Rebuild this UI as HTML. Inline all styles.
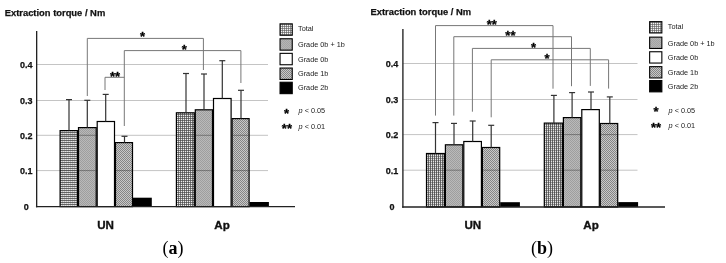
<!DOCTYPE html>
<html><head><meta charset="utf-8"><style>
html,body{margin:0;padding:0;background:#fff;}
svg{display:block;will-change:transform;filter:blur(0.3px);}
text{font-family:"Liberation Sans",sans-serif;}
.t{font-weight:bold;font-size:9.4px;fill:#111;stroke:#111;stroke-width:0.25px;}
.yl{font-weight:bold;font-size:9px;fill:#111;text-anchor:middle;stroke:#111;stroke-width:0.25px;}
.xl{font-weight:bold;font-size:11.6px;fill:#111;text-anchor:middle;stroke:#111;stroke-width:0.35px;}
.lg{font-size:7.3px;fill:#222;}
.s{font-weight:bold;font-size:13px;fill:#000;text-anchor:middle;stroke:#000;stroke-width:0.3px;}
.cap{font-family:"Liberation Serif",serif;font-size:18px;fill:#000;text-anchor:middle;}
.g{stroke:#c4c4c4;stroke-width:1;}
.b{stroke:#000;stroke-width:1.1;}
.e{stroke:#333;stroke-width:1.2;}
.k{stroke:#777;stroke-width:1;}
.ax{stroke:#222;stroke-width:1.35;}
</style></head><body>
<svg width="726" height="263" viewBox="0 0 726 263">
<defs><pattern id="pTH" width="2" height="2" patternUnits="userSpaceOnUse"><rect x="0" y="0" width="1" height="1" fill="#606060"/><rect x="1" y="0" width="1" height="1" fill="#686868"/><rect x="0" y="1" width="1" height="1" fill="#bcbcbc"/><rect x="1" y="1" width="1" height="1" fill="#e2e2e2"/></pattern><pattern id="pTG" width="2" height="2" patternUnits="userSpaceOnUse"><rect x="0" y="0" width="1" height="1" fill="#555"/><rect x="1" y="0" width="1" height="1" fill="#7a7a7a"/><rect x="0" y="1" width="1" height="1" fill="#7a7a7a"/><rect x="1" y="1" width="1" height="1" fill="#eee"/></pattern><pattern id="pTV" width="2" height="2" patternUnits="userSpaceOnUse"><rect x="0" y="0" width="1" height="1" fill="#555"/><rect x="1" y="0" width="1" height="1" fill="#9a9a9a"/><rect x="0" y="1" width="1" height="1" fill="#666"/><rect x="1" y="1" width="1" height="1" fill="#e6e6e6"/></pattern><pattern id="pTL" width="2" height="2" patternUnits="userSpaceOnUse"><rect x="0" y="0" width="1" height="1" fill="#707070"/><rect x="1" y="0" width="1" height="1" fill="#959595"/><rect x="0" y="1" width="1" height="1" fill="#959595"/><rect x="1" y="1" width="1" height="1" fill="#f5f5f5"/></pattern><pattern id="p01" width="2" height="2" patternUnits="userSpaceOnUse"><rect x="0" y="0" width="1" height="1" fill="#9e9e9e"/><rect x="1" y="0" width="1" height="1" fill="#b9b9b9"/><rect x="0" y="1" width="1" height="1" fill="#b9b9b9"/><rect x="1" y="1" width="1" height="1" fill="#9e9e9e"/></pattern><pattern id="p01L" width="2" height="2" patternUnits="userSpaceOnUse"><rect x="0" y="0" width="1" height="1" fill="#a4a4a4"/><rect x="1" y="0" width="1" height="1" fill="#b4b4b4"/><rect x="0" y="1" width="1" height="1" fill="#b4b4b4"/><rect x="1" y="1" width="1" height="1" fill="#a4a4a4"/></pattern><pattern id="p1" width="2" height="2" patternUnits="userSpaceOnUse"><rect x="0" y="0" width="1" height="1" fill="#858585"/><rect x="1" y="0" width="1" height="1" fill="#c8c8c8"/><rect x="0" y="1" width="1" height="1" fill="#c8c8c8"/><rect x="1" y="1" width="1" height="1" fill="#858585"/></pattern></defs>
<text x="4.7" y="16.1" class="t">Extraction torque / Nm</text>
<line x1="36.65" x2="268" y1="64.5" y2="64.5" class="g"/>
<line x1="36.65" x2="268" y1="100.5" y2="100.5" class="g"/>
<line x1="36.65" x2="268" y1="135.3" y2="135.3" class="g"/>
<line x1="36.65" x2="268" y1="170.6" y2="170.6" class="g"/>
<rect x="60.10" y="130.60" width="17.40" height="76.00" fill="url(#pTH)" stroke="#000" stroke-width="1.2"/>
<line x1="60.70" x2="76.90" y1="135.3" y2="135.3" stroke="#333" stroke-opacity="0.25" stroke-width="1"/>
<line x1="60.70" x2="76.90" y1="170.6" y2="170.6" stroke="#333" stroke-opacity="0.25" stroke-width="1"/>
<rect x="78.50" y="127.60" width="17.70" height="79.00" fill="url(#p01)" stroke="#000" stroke-width="1.2"/>
<line x1="79.10" x2="95.60" y1="135.3" y2="135.3" stroke="#333" stroke-opacity="0.45" stroke-width="1"/>
<line x1="79.10" x2="95.60" y1="170.6" y2="170.6" stroke="#333" stroke-opacity="0.45" stroke-width="1"/>
<rect x="97.20" y="121.50" width="17.30" height="85.10" fill="#fff" stroke="#000" stroke-width="1.2"/>
<rect x="115.50" y="142.60" width="17.00" height="64.00" fill="url(#p1)" stroke="#000" stroke-width="1.2"/>
<line x1="116.10" x2="131.90" y1="170.6" y2="170.6" stroke="#333" stroke-opacity="0.45" stroke-width="1"/>
<rect x="133.00" y="197.70" width="18.80" height="8.90" fill="#000"/>
<rect x="176.40" y="112.80" width="17.90" height="93.80" fill="url(#pTG)" stroke="#000" stroke-width="1.2"/>
<line x1="177.00" x2="193.70" y1="135.3" y2="135.3" stroke="#333" stroke-opacity="0.25" stroke-width="1"/>
<line x1="177.00" x2="193.70" y1="170.6" y2="170.6" stroke="#333" stroke-opacity="0.25" stroke-width="1"/>
<rect x="195.30" y="109.80" width="17.20" height="96.80" fill="url(#p01)" stroke="#000" stroke-width="1.2"/>
<line x1="195.90" x2="211.90" y1="135.3" y2="135.3" stroke="#333" stroke-opacity="0.45" stroke-width="1"/>
<line x1="195.90" x2="211.90" y1="170.6" y2="170.6" stroke="#333" stroke-opacity="0.45" stroke-width="1"/>
<rect x="213.50" y="98.50" width="17.60" height="108.10" fill="#fff" stroke="#000" stroke-width="1.2"/>
<rect x="232.10" y="118.60" width="17.00" height="88.00" fill="url(#p1)" stroke="#000" stroke-width="1.2"/>
<line x1="232.70" x2="248.50" y1="135.3" y2="135.3" stroke="#333" stroke-opacity="0.45" stroke-width="1"/>
<line x1="232.70" x2="248.50" y1="170.6" y2="170.6" stroke="#333" stroke-opacity="0.45" stroke-width="1"/>
<rect x="249.60" y="202.00" width="19.30" height="4.60" fill="#000"/>
<line x1="69" x2="69" y1="99.6" y2="130.6" class="e"/>
<line x1="66" x2="72" y1="99.6" y2="99.6" class="e"/>
<line x1="87.3" x2="87.3" y1="100.3" y2="127.6" class="e"/>
<line x1="84.3" x2="90.3" y1="100.3" y2="100.3" class="e"/>
<line x1="105.7" x2="105.7" y1="94.4" y2="121.5" class="e"/>
<line x1="102.7" x2="108.7" y1="94.4" y2="94.4" class="e"/>
<line x1="124.5" x2="124.5" y1="136.3" y2="142.6" class="e"/>
<line x1="121.5" x2="127.5" y1="136.3" y2="136.3" class="e"/>
<line x1="186" x2="186" y1="73.5" y2="112.8" class="e"/>
<line x1="183" x2="189" y1="73.5" y2="73.5" class="e"/>
<line x1="204" x2="204" y1="74" y2="109.8" class="e"/>
<line x1="201" x2="207" y1="74" y2="74" class="e"/>
<line x1="222.3" x2="222.3" y1="60.7" y2="98.5" class="e"/>
<line x1="219.3" x2="225.3" y1="60.7" y2="60.7" class="e"/>
<line x1="241" x2="241" y1="90.3" y2="118.6" class="e"/>
<line x1="238" x2="244" y1="90.3" y2="90.3" class="e"/>
<line x1="87.3" x2="203.4" y1="38.4" y2="38.4" class="k"/>
<line x1="87.3" x2="87.3" y1="38.4" y2="96" class="k"/>
<line x1="203.4" x2="203.4" y1="38.4" y2="70" class="k"/>
<text x="142.6" y="41.20" class="s">*</text>
<line x1="124.3" x2="240.9" y1="50.6" y2="50.6" class="k"/>
<line x1="124.3" x2="124.3" y1="50.6" y2="126" class="k"/>
<line x1="240.9" x2="240.9" y1="50.6" y2="83" class="k"/>
<text x="184.2" y="53.50" class="s">*</text>
<line x1="105.0" x2="124.3" y1="77.3" y2="77.3" class="k"/>
<line x1="105.0" x2="105.0" y1="77.3" y2="90" class="k"/>
<text x="115.1" y="81.20" class="s">**</text>
<line x1="36.65" x2="36.65" y1="31" y2="207.29999999999998" class="ax"/>
<line x1="35.949999999999996" x2="295" y1="206.6" y2="206.6" class="ax"/>
<text x="26.15" y="67.80" class="yl">0.4</text>
<text x="26.15" y="103.80" class="yl">0.3</text>
<text x="26.15" y="138.60" class="yl">0.2</text>
<text x="26.15" y="173.90" class="yl">0.1</text>
<text x="26.15" y="209.90" class="yl">0</text>
<rect x="280.05" y="23.85" width="12.20" height="11.40" fill="url(#pTL)" class="b"/>
<text x="298.0" y="31.0" class="lg">Total</text>
<rect x="280.05" y="38.75" width="12.20" height="11.40" fill="url(#p01L)" class="b"/>
<text x="298.0" y="47.1" class="lg">Grade 0b + 1b</text>
<rect x="280.05" y="53.35" width="12.20" height="11.40" fill="#fff" class="b"/>
<text x="298.0" y="62.0" class="lg">Grade 0b</text>
<rect x="280.05" y="68.05" width="12.20" height="11.40" fill="url(#p1)" class="b"/>
<text x="298.0" y="76.1" class="lg">Grade 1b</text>
<rect x="280.05" y="82.25" width="12.20" height="11.40" fill="#000" class="b"/>
<text x="298.0" y="89.8" class="lg">Grade 2b</text>
<text x="286.6" y="117.80" class="s">*</text>
<text x="286.9" y="132.60" class="s">**</text>
<text x="298.6" y="113.2" class="lg"><tspan font-style="italic">p</tspan> &lt; 0.05</text>
<text x="298.6" y="128.6" class="lg"><tspan font-style="italic">p</tspan> &lt; 0.01</text>
<text x="105.6" y="228.5" class="xl">UN</text>
<text x="222" y="228.5" class="xl">Ap</text>
<text x="173" y="254.4" class="cap">(<tspan font-weight="bold">a</tspan>)</text>
<text x="370.5" y="14.5" class="t">Extraction torque / Nm</text>
<line x1="402.9" x2="637.5" y1="63.5" y2="63.5" class="g"/>
<line x1="402.9" x2="637.5" y1="99.5" y2="99.5" class="g"/>
<line x1="402.9" x2="637.5" y1="134.6" y2="134.6" class="g"/>
<line x1="402.9" x2="637.5" y1="170.2" y2="170.2" class="g"/>
<rect x="426.50" y="153.50" width="17.90" height="53.45" fill="url(#pTV)" stroke="#000" stroke-width="1.2"/>
<line x1="427.10" x2="443.80" y1="170.2" y2="170.2" stroke="#333" stroke-opacity="0.25" stroke-width="1"/>
<rect x="445.40" y="144.80" width="17.40" height="62.15" fill="url(#p01)" stroke="#000" stroke-width="1.2"/>
<line x1="446.00" x2="462.20" y1="170.2" y2="170.2" stroke="#333" stroke-opacity="0.45" stroke-width="1"/>
<rect x="463.80" y="141.50" width="17.60" height="65.45" fill="#fff" stroke="#000" stroke-width="1.2"/>
<rect x="482.40" y="147.50" width="17.30" height="59.45" fill="url(#p1)" stroke="#000" stroke-width="1.2"/>
<line x1="483.00" x2="499.10" y1="170.2" y2="170.2" stroke="#333" stroke-opacity="0.45" stroke-width="1"/>
<rect x="500.20" y="202.20" width="19.70" height="4.75" fill="#000"/>
<rect x="544.30" y="123.10" width="18.10" height="83.85" fill="url(#pTV)" stroke="#000" stroke-width="1.2"/>
<line x1="544.90" x2="561.80" y1="134.6" y2="134.6" stroke="#333" stroke-opacity="0.25" stroke-width="1"/>
<line x1="544.90" x2="561.80" y1="170.2" y2="170.2" stroke="#333" stroke-opacity="0.25" stroke-width="1"/>
<rect x="563.40" y="117.60" width="17.40" height="89.35" fill="url(#p01)" stroke="#000" stroke-width="1.2"/>
<line x1="564.00" x2="580.20" y1="134.6" y2="134.6" stroke="#333" stroke-opacity="0.45" stroke-width="1"/>
<line x1="564.00" x2="580.20" y1="170.2" y2="170.2" stroke="#333" stroke-opacity="0.45" stroke-width="1"/>
<rect x="581.80" y="109.60" width="17.50" height="97.35" fill="#fff" stroke="#000" stroke-width="1.2"/>
<rect x="600.30" y="123.50" width="17.40" height="83.45" fill="url(#p1)" stroke="#000" stroke-width="1.2"/>
<line x1="600.90" x2="617.10" y1="134.6" y2="134.6" stroke="#333" stroke-opacity="0.45" stroke-width="1"/>
<line x1="600.90" x2="617.10" y1="170.2" y2="170.2" stroke="#333" stroke-opacity="0.45" stroke-width="1"/>
<rect x="618.20" y="202.10" width="19.90" height="4.85" fill="#000"/>
<line x1="435.5" x2="435.5" y1="122.6" y2="153.5" class="e"/>
<line x1="432.5" x2="438.5" y1="122.6" y2="122.6" class="e"/>
<line x1="454" x2="454" y1="123.4" y2="144.8" class="e"/>
<line x1="451" x2="457" y1="123.4" y2="123.4" class="e"/>
<line x1="472.7" x2="472.7" y1="121" y2="141.5" class="e"/>
<line x1="469.7" x2="475.7" y1="121" y2="121" class="e"/>
<line x1="491.2" x2="491.2" y1="125.3" y2="147.5" class="e"/>
<line x1="488.2" x2="494.2" y1="125.3" y2="125.3" class="e"/>
<line x1="553.9" x2="553.9" y1="95.4" y2="123.1" class="e"/>
<line x1="550.9" x2="556.9" y1="95.4" y2="95.4" class="e"/>
<line x1="572.1" x2="572.1" y1="92.6" y2="117.6" class="e"/>
<line x1="569.1" x2="575.1" y1="92.6" y2="92.6" class="e"/>
<line x1="591" x2="591" y1="92" y2="109.6" class="e"/>
<line x1="588" x2="594" y1="92" y2="92" class="e"/>
<line x1="609.8" x2="609.8" y1="96.9" y2="123.5" class="e"/>
<line x1="606.8" x2="612.8" y1="96.9" y2="96.9" class="e"/>
<line x1="435.5" x2="553.0" y1="25.6" y2="25.6" class="k"/>
<line x1="435.5" x2="435.5" y1="25.6" y2="115.6" class="k"/>
<line x1="553.0" x2="553.0" y1="25.6" y2="88.7" class="k"/>
<text x="491.7" y="29.00" class="s">**</text>
<line x1="453.8" x2="571.5" y1="36.7" y2="36.7" class="k"/>
<line x1="453.8" x2="453.8" y1="36.7" y2="115.6" class="k"/>
<line x1="571.5" x2="571.5" y1="36.7" y2="86.2" class="k"/>
<text x="510.4" y="39.70" class="s">**</text>
<line x1="472.4" x2="590.3" y1="48.4" y2="48.4" class="k"/>
<line x1="472.4" x2="472.4" y1="48.4" y2="111.7" class="k"/>
<line x1="590.3" x2="590.3" y1="48.4" y2="85.9" class="k"/>
<text x="533.5" y="51.60" class="s">*</text>
<line x1="491.2" x2="608.6" y1="59.8" y2="59.8" class="k"/>
<line x1="491.2" x2="491.2" y1="59.8" y2="117.3" class="k"/>
<line x1="608.6" x2="608.6" y1="59.8" y2="88.6" class="k"/>
<text x="547.0" y="62.90" class="s">*</text>
<line x1="402.9" x2="402.9" y1="29" y2="207.64999999999998" class="ax"/>
<line x1="402.2" x2="665" y1="206.95" y2="206.95" class="ax"/>
<text x="392.0" y="66.80" class="yl">0.4</text>
<text x="392.0" y="102.80" class="yl">0.3</text>
<text x="392.0" y="137.90" class="yl">0.2</text>
<text x="392.0" y="173.50" class="yl">0.1</text>
<text x="392.0" y="210.25" class="yl">0</text>
<rect x="649.65" y="21.65" width="12.20" height="11.30" fill="url(#pTL)" class="b"/>
<text x="667.8" y="29.0" class="lg">Total</text>
<rect x="649.65" y="37.15" width="12.20" height="11.30" fill="url(#p01L)" class="b"/>
<text x="667.8" y="45.5" class="lg">Grade 0b + 1b</text>
<rect x="649.65" y="51.75" width="12.20" height="11.30" fill="#fff" class="b"/>
<text x="667.8" y="60.3" class="lg">Grade 0b</text>
<rect x="649.65" y="66.65" width="12.20" height="11.30" fill="url(#p1)" class="b"/>
<text x="667.8" y="74.6" class="lg">Grade 1b</text>
<rect x="649.65" y="80.55" width="12.20" height="11.30" fill="#000" class="b"/>
<text x="667.8" y="88.8" class="lg">Grade 2b</text>
<text x="656.0" y="116.40" class="s">*</text>
<text x="656.0" y="132.10" class="s">**</text>
<text x="668.6" y="112.6" class="lg"><tspan font-style="italic">p</tspan> &lt; 0.05</text>
<text x="668.6" y="127.9" class="lg"><tspan font-style="italic">p</tspan> &lt; 0.01</text>
<text x="472.8" y="228.8" class="xl">UN</text>
<text x="591.1" y="228.8" class="xl">Ap</text>
<text x="541.9" y="254.4" class="cap">(<tspan font-weight="bold">b</tspan>)</text>
</svg>
</body></html>
